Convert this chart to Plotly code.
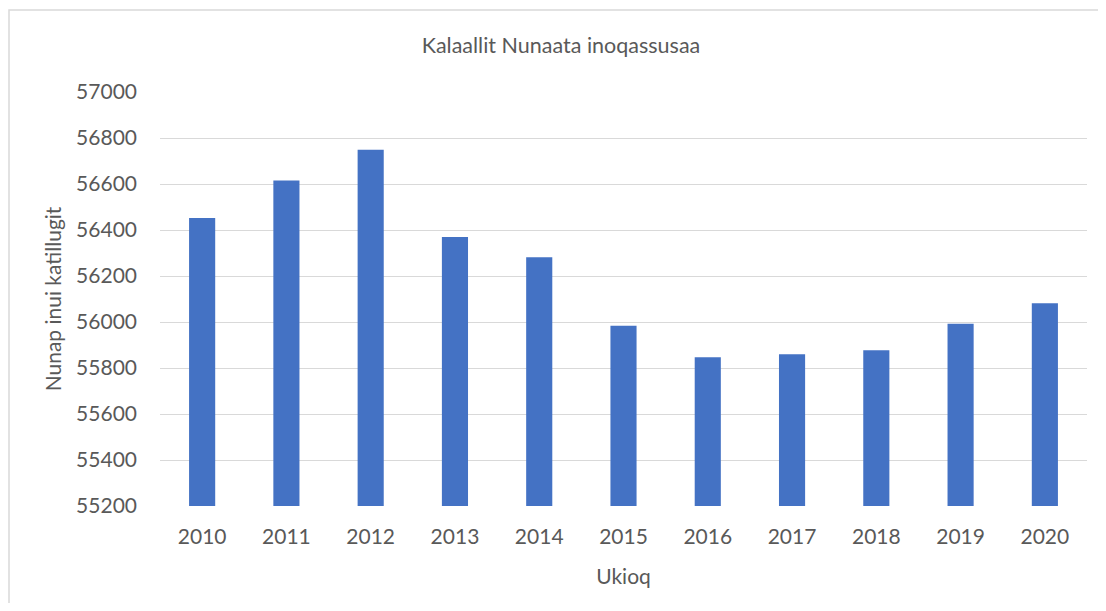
import plotly.graph_objects as go

years = ["2010", "2011", "2012", "2013", "2014", "2015", "2016", "2017", "2018", "2019", "2020"]
population = [56452, 56615, 56749, 56370, 56282, 55984, 55847, 55860, 55877, 55992, 56081]

# page body has an 8px margin; figure is sized/offset to compensate
W, H = 1090, 595
L, R, T, B = 152, 11, 84, 97
pw, ph = W - L - R, H - T - B

def px(x):
    return (x - L) / pw

def py(y):
    return (H - B - y) / ph

GREY = "#595959"
FONT = "Lato, Carlito, Calibri, sans-serif"

fig = go.Figure(go.Bar(x=years, y=population, marker=dict(color="#4472C4", line=dict(width=0))))

fig.update_layout(
    width=W, height=H,
    margin=dict(l=L, r=R, t=T, b=B),
    paper_bgcolor="white", plot_bgcolor="white",
    font=dict(family=FONT, color=GREY),
    bargap=0.69,
    showlegend=False,
    title=dict(text="Kalaallit Nunaata inoqassusaa", x=553 / W, xref="container", xanchor="center",
               y=1 - 37 / H, yanchor="middle", font=dict(size=21.5, color=GREY)),
    xaxis=dict(title=dict(text="Ukioq", font=dict(size=21, color=GREY), standoff=22),
               tickfont=dict(size=21, color=GREY), showgrid=False, showline=False,
               ticks="", ticklabelstandoff=16),
    yaxis=dict(title=dict(text="Nunap inui katillugit", font=dict(size=21, color=GREY), standoff=8),
               range=[55200, 57000], dtick=200, tickformat="d",
               tickfont=dict(size=21, color=GREY), showgrid=True, gridcolor="#D9D9D9",
               gridwidth=1.3, zeroline=False, showline=False, ticks="", ticklabelstandoff=22),
    shapes=[dict(type="rect", xref="paper", yref="paper",
                 x0=px(1), x1=px(W + 20), y0=py(2), y1=py(H + 20),
                 line=dict(color="#D9D9D9", width=1.5), fillcolor="rgba(0,0,0,0)", layer="below")],
)

fig.write_html("out.html")
